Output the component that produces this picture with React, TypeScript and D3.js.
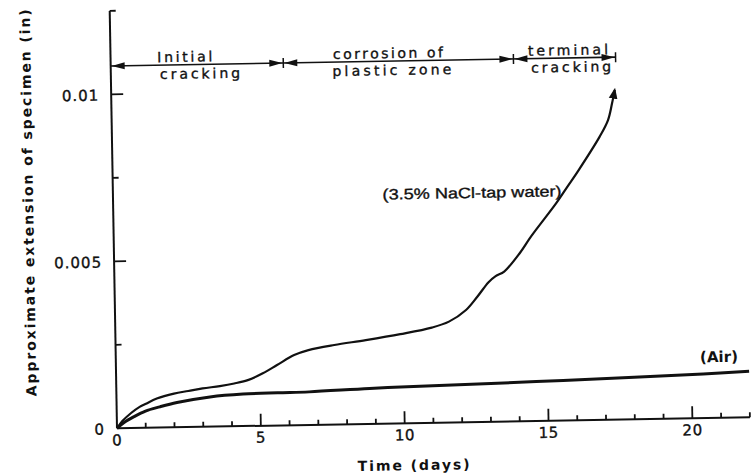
import React from "react";
import * as d3 from "d3";

// ---- data ----
const naclDays = [0, 0.2, 0.5, 0.8, 1.0, 1.4, 2.0, 2.5, 3.0, 3.6, 4.1, 4.6, 5.1, 5.6, 6.2, 6.7, 7.6, 8.7, 9.9, 11.0, 11.6, 12.2, 12.6, 13.0, 13.25, 13.55, 14.1, 14.5, 15.4, 15.8, 16.2, 16.95, 17.25, 17.4, 17.5];
const naclValues = [0, 0.00022, 0.00045, 0.00063, 0.00071, 0.00087, 0.00101, 0.00108, 0.00115, 0.00121, 0.00128, 0.00138, 0.00157, 0.00181, 0.0021, 0.00224, 0.00238, 0.00251, 0.00267, 0.00285, 0.00302, 0.00336, 0.00375, 0.00418, 0.00436, 0.00449, 0.00503, 0.00552, 0.00651, 0.007, 0.00749, 0.00848, 0.00897, 0.00947, 0.00987];

const airDays = [0, 0.25, 0.6, 1.0, 1.5, 2.1, 3.25, 4.4, 5.6, 6.7, 8.8, 11, 14.6, 18, 20.4, 22];
const airValues = [0, 0.00017, 0.00034, 0.0005, 0.00062, 0.00074, 0.00089, 0.00096, 0.00098, 0.00099, 0.00106, 0.00111, 0.00118, 0.00126, 0.00132, 0.00138];

const xTickValues = [0, 5, 10, 15, 20];
const xTickLabels = ["0", "5", "10", "15", "20"];
const xMinorTicks = d3.range(1, 23);
const yTickValues = [0, 0.005, 0.01];
const yTickLabels = ["0", "0.005", "0.01"];
const yMinorTicks = [0.0025, 0.0075, 0.0125];

const phaseBounds = [0, 6, 14, 17.55];
const phaseTop = ["Initial", "corrosion of", "terminal"];
const phaseBottom = ["cracking", "plastic zone", "cracking"];
const phaseTopCenters = [2.58, 9.64, 15.9];
const phaseBottomCenters = [3.1, 9.77, 16.0];
const phaseLevel = 0.01085;

const naclLabel = "(3.5% NaCl-tap water)";
const naclLabelAt = [12.48, 0.00671];
const airLabel = "(Air)";
const airLabelAt = [20.96, 0.00167];

const xTitle = "Time (days)";
const yTitle = "Approximate extension of specimen (in)";

export default function App() {
  const x = d3.scaleLinear().domain([0, 22]).range([0, 633]);
  const y = d3.scaleLinear().domain([0, 0.0125]).range([0, -417.5]);
  const line = d3
    .line<[number, number]>()
    .x((d) => x(d[0]))
    .y((d) => y(d[1]))
    .curve(d3.curveCatmullRom.alpha(0.5));
  const nacl = naclDays.map((d, i) => [d, naclValues[i]] as [number, number]);
  const air = airDays.map((d, i) => [d, airValues[i]] as [number, number]);

  const font = "'DejaVu Sans', sans-serif";
  const ly = y(phaseLevel);
  const ah = (tipX: number, dir: number) =>
    `M${tipX},${ly} L${tipX - dir * 13},${ly - 3.5} L${tipX - dir * 13},${ly + 3.5} Z`;

  const topLens = [55, 110, 80];
  const botLens = [80, 119, 80];
  const thick = { stroke: "#111", strokeWidth: 0.35 };

  return (
    <svg
      width={753}
      height={474}
      style={{ position: "absolute", left: 0, top: 0, background: "#fff" }}
    >
      <defs>
        <marker id="tip" viewBox="0 0 10 10" refX="8" refY="5" markerWidth="5" markerHeight="5" orient="auto">
          <path d="M0,1 L10,5 L0,9 Z" fill="#111" />
        </marker>
      </defs>
      <g transform="translate(117,428.3) rotate(-1)" fill="#111" fontFamily={font}>
        {/* axes */}
        <line x1={0} y1={0} x2={x(22)} y2={0} stroke="#111" strokeWidth={2} />
        <line x1={0} y1={0} x2={0} y2={y(0.0125)} stroke="#111" strokeWidth={2} />
        {xMinorTicks.map((t) => (
          <line
            key={"xm" + t}
            x1={x(t)}
            x2={x(t)}
            y1={0}
            y2={t % 5 === 0 ? -12 : -5}
            stroke="#111"
            strokeWidth={1.8}
          />
        ))}
        {yMinorTicks.map((t) => (
          <line key={"ym" + t} x1={0} x2={6} y1={y(t)} y2={y(t)} stroke="#111" strokeWidth={1.8} />
        ))}
        {yTickValues.slice(1).map((t) => (
          <line key={"yM" + t} x1={0} x2={12} y1={y(t)} y2={y(t)} stroke="#111" strokeWidth={1.8} />
        ))}
        {xTickValues.map((t, i) => (
          <text key={"xl" + t} x={x(t)} y={17} textAnchor="middle" fontSize={15} letterSpacing={0.5} {...thick}>
            {xTickLabels[i]}
          </text>
        ))}
        {yTickValues.map((t, i) => (
          <text key={"yl" + t} x={-12} y={y(t) + 6} textAnchor="end" fontSize={15} letterSpacing={1} {...thick}>
            {yTickLabels[i]}
          </text>
        ))}
        {/* titles */}
        <text x={296} y={47} textAnchor="middle" fontSize={14} fontWeight="bold" textLength={112} lengthAdjust="spacing">
          {xTitle}
        </text>
        <text
          transform="translate(-80,-227) rotate(-90)"
          textAnchor="middle"
          fontSize={14}
          fontWeight="bold"
          textLength={387}
          lengthAdjust="spacing"
        >
          {yTitle}
        </text>
        {/* curves */}
        <path d={line(air) || ""} fill="none" stroke="#111" strokeWidth={3} />
        <path d={line(nacl) || ""} fill="none" stroke="#111" strokeWidth={2.2} markerEnd="url(#tip)" />
        {/* phase annotation */}
        <line x1={x(0)} x2={x(phaseBounds[3])} y1={ly} y2={ly} stroke="#111" strokeWidth={1.6} />
        <path d={ah(x(0) + 1, -1)} />
        {phaseBounds.slice(1).map((b, i) => (
          <g key={"pb" + b}>
            <path d={ah(x(b) - 1, 1)} />
            {i < 2 && <path d={ah(x(b) + 1, -1)} />}
            <line x1={x(b)} x2={x(b)} y1={ly - 5} y2={ly + 5} stroke="#111" strokeWidth={1.5} />
          </g>
        ))}
        {phaseTop.map((s, i) => (
          <text key={"pt" + i} x={x(phaseTopCenters[i])} y={ly - 3} textAnchor="middle" fontSize={14} textLength={topLens[i]} lengthAdjust="spacing" {...thick}>
            {s}
          </text>
        ))}
        {phaseBottom.map((s, i) => (
          <text key={"pbt" + i} x={x(phaseBottomCenters[i])} y={ly + 14} textAnchor="middle" fontSize={14} textLength={botLens[i]} lengthAdjust="spacing" {...thick}>
            {s}
          </text>
        ))}
        <text
          x={x(naclLabelAt[0])}
          y={y(naclLabelAt[1])}
          textAnchor="middle"
          fontSize={15}
          fontFamily="'Liberation Sans', Arial, sans-serif"
          textLength={179}
          lengthAdjust="spacingAndGlyphs"
          {...thick}
        >
          {naclLabel}
        </text>
        <text x={x(airLabelAt[0])} y={y(airLabelAt[1])} textAnchor="middle" fontSize={15} fontWeight="bold" textLength={38} lengthAdjust="spacing">
          {airLabel}
        </text>
      </g>
    </svg>
  );
}
